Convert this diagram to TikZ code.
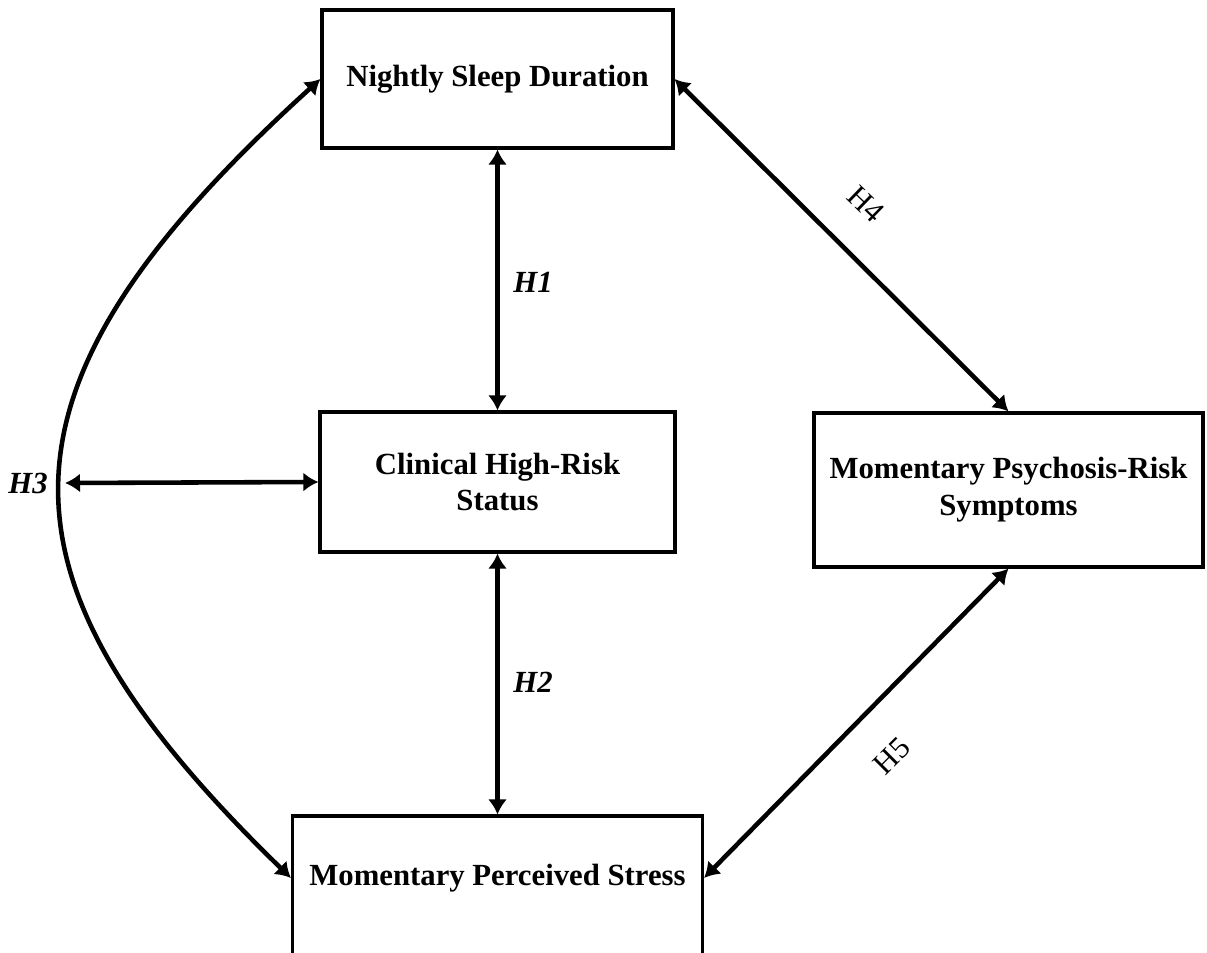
\documentclass[tikz,border=0pt]{standalone}
\usepackage{fontspec}
\setmainfont{Liberation Serif}
\usepackage{tikz}
\usetikzlibrary{arrows.meta}

\begin{document}
\begin{tikzpicture}
  [x=0.02cm,y=0.02cm,
   lbl/.style={align=center,font=\fontsize{17.5}{21}\selectfont\bfseries},
   var/.style={lbl,draw,rectangle,line width=1.8pt},
   hyp/.style={font=\fontsize{17.5}{21}\selectfont\bfseries\itshape},
   hypr/.style={font=\fontsize{17.5}{21}\selectfont,inner sep=0pt},
   link/.style={line width=2.6pt,{Latex[length=0.3cm,width=0.38cm]}-{Latex[length=0.3cm,width=0.38cm]}}]

  \useasboundingbox (0,0) rectangle (1207,953);

  \node[var,minimum width=7.02cm,minimum height=2.76cm] (sleep) at (497.5,874) {Nightly Sleep Duration};
  \node[var,minimum width=7.1cm,minimum height=2.8cm] (chr) at (497.5,471) {Clinical High-Risk\\Status};
  \node[var,minimum width=7.78cm,minimum height=3.08cm] (psych) at (1008.5,463) {Momentary Psychosis-Risk\\Symptoms};
  \node[var,minimum width=8.2cm,minimum height=3.04cm] (stress) at (497.5,61) {};
  \node[lbl] (stresstxt) at (497.5,75) {Momentary Perceived Stress};

  \node[hyp] (h1) at (533,671) {H1};
  \node[hyp] (h2) at (533,271) {H2};
  \node[hyp] (h3) at (28,470) {H3};
  \node[hypr,rotate=-44] (h4) at (866,749) {H4};
  \node[hypr,rotate=45] (h5) at (892,197) {H5};

  \coordinate (h3mid) at (65,470);

  \draw[link] (sleep.south) -- (chr.north);
  \draw[link] (chr.south) -- (stress.north);
  \draw[link] (sleep.east) -- (psych.north);
  \draw[link] (stresstxt -| stress.east) -- (psych.south);
  \draw[link] (sleep.west) .. controls (-21,564) and (-21,378) .. (stresstxt -| stress.west);
  \draw[link] (h3mid) -- (chr.west);
\end{tikzpicture}
\end{document}
